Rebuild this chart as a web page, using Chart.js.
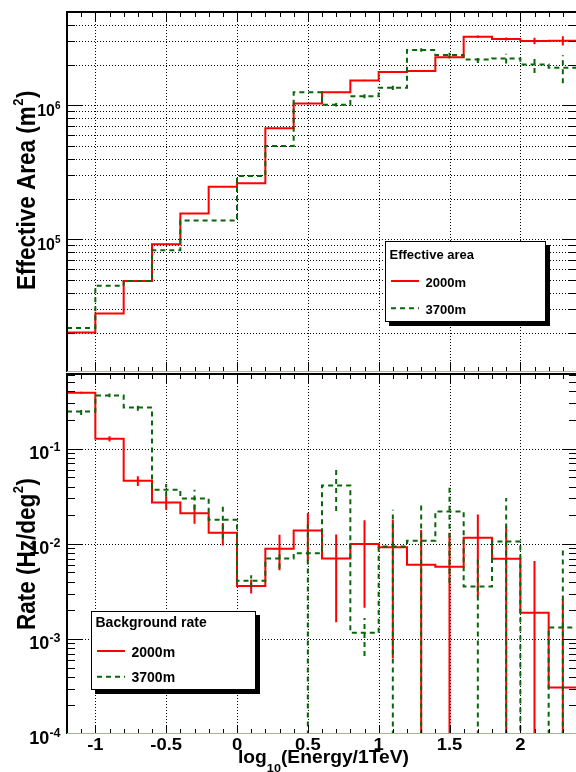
<!DOCTYPE html>
<html><head><meta charset="utf-8">
<script src="https://cdn.jsdelivr.net/npm/chart.js@4"></script>
<style>
html,body{margin:0;padding:0;background:#fff;overflow:hidden;width:576px;height:772px;}
#wrap{position:relative;width:576px;height:772px;overflow:hidden;background:#fff;}
canvas{position:absolute;left:0;top:0;}
</style></head><body>
<div id="wrap"><canvas id="cTop" width="580" height="772"></canvas><canvas id="cBot" width="580" height="772"></canvas></div>
<script>
// ---- data ----
const binEdges = [-1.2,-1.0,-0.8,-0.6,-0.4,-0.2,0.0,0.2,0.4,0.6,0.8,1.0,1.2,1.4,1.6,1.8,2.0,2.2,2.4];
const seriesNames = ['2000m','3700m'];
const areaRed      = [2.02e4,2.79e4,4.89e4,9.18e4,1.56e5,2.47e5,2.62e5,6.73e5,1.03e6,1.25e6,1.53e6,1.77e6,1.80e6,2.28e6,3.25e6,3.13e6,3.02e6,3.03e6];
const areaRedErr   = [0,0,0,0,0,0,0,0,0,0.01e6,0.02e6,0.02e6,0.03e6,0.04e6,0.07e6,0.08e6,0.17e6,0.24e6];
const areaGreen    = [2.18e4,4.51e4,4.89e4,8.28e4,1.38e5,1.38e5,2.97e5,4.97e5,1.25e6,1.01e6,1.17e6,1.35e6,2.59e6,2.37e6,2.20e6,2.24e6,2.02e6,1.91e6];
const areaGreenErr = [0,0,0,0,0,0,0,0,0,0.03e6,0.04e6,0.05e6,0.08e6,0.10e6,0.13e6,0.19e6,0.28e6,0.45e6];
const rateRed      = [0.388,0.127,0.046,0.0272,0.021,0.0131,0.00361,0.00886,0.0138,0.0070,0.00993,0.00923,0.00601,0.00573,0.0116,0.00695,0.00188,0.000308];
const rateRedErr   = [0.01,0.008,0.0055,0.0044,0.0047,0.0035,0.0006,0.0036,0.0073,0.0055,0.0078,0.0086,0.008,0.0072,0.0088,0.0083,0.0047,0.0023];
const rateGreen    = [0.247,0.364,0.272,0.037,0.030,0.0179,0.00408,0.00701,0.00798,0.0411,0.00116,0.00937,0.0108,0.0219,0.00356,0.0106,1e-4,0.00132];
const rateGreenErr = [0.02,0.017,0.021,0.0055,0.007,0.0066,0.0006,0.0015,0.0079,0.019,0.0005,0.0135,0.016,0.018,0.0037,0.0197,0,0.0078];
const xTickValues = [-1,-0.5,0,0.5,1,1.5,2];
const xTickLabels = ['-1','-0.5','0','0.5','1','1.5','2'];
const areaTickValues = [1e5,1e6];
const areaTickExp = ['5','6'];
const rateTickValues = [1e-4,1e-3,1e-2,1e-1];
const rateTickExp = ['-4','-3','-2','-1'];
const xTitle = ['log','10','(Energy/1TeV)'];
const areaTitle = ['Effective Area (m','2',')'];
const rateTitle = ['Rate (Hz/deg','2',')'];
const areaLegendTitle = 'Effective area';
const rateLegendTitle = 'Background rate';
const AREA_MIN = 1.023e4, AREA_MAX = 4.97e6, RATE_MIN = 1e-4, RATE_MAX = 0.611;
const X_MIN = -1.2, X_MAX = 2.4;

const RED = '#ff0000', GREEN = '#0a660a';
const FONT = '"Liberation Sans", Arial, Helvetica, sans-serif';

function histPoints(vals){
  const pts = vals.map((v,i)=>({x:binEdges[i], y:v}));
  pts.push({x:binEdges[binEdges.length-1], y:vals[vals.length-1]});
  return pts;
}
function errPoints(vals, errs, floor){
  const pts = [];
  vals.forEach((v,i)=>{
    if(!errs[i]) return;
    const c = (binEdges[i]+binEdges[i+1])/2;
    const lo = v-errs[i] > floor ? v-errs[i] : floor*0.5;
    pts.push({x:c,y:lo},{x:c,y:v+errs[i]},{x:c,y:null});
  });
  return pts;
}
function datasets(rv, re, gv, ge, floor){
  const base = {pointRadius:0, borderWidth:2, fill:false, tension:0, spanGaps:false};
  return [
    Object.assign({label:seriesNames[1], data:histPoints(gv), borderColor:GREEN, borderDash:[5,4], stepped:'before', order:0}, base),
    Object.assign({label:seriesNames[1]+' err', data:errPoints(gv,ge,floor), borderColor:GREEN, borderDash:[5,4], order:0}, base),
    Object.assign({label:seriesNames[0], data:histPoints(rv), borderColor:RED, stepped:'before', order:1}, base),
    Object.assign({label:seriesNames[0]+' err', data:errPoints(rv,re,floor), borderColor:RED, order:1}, base)
  ];
}

function minorLogValues(min, max){
  const out = [];
  for(let d=Math.floor(Math.log10(min)); d<=Math.ceil(Math.log10(max)); d++){
    for(let k=1;k<=9;k++){ const v=k*Math.pow(10,d); if(v>=min*1.0001 && v<=max*0.9999) out.push({v, major:k===1}); }
  }
  return out;
}
function xMinorValues(){
  const out=[];
  for(let i=1;i<36;i++){ const v=Math.round((X_MIN+i*0.1)*10)/10; out.push({v, major: Math.abs(v*2-Math.round(v*2))<1e-9}); }
  return out;
}

function txt(ctx, s, x, y, size, align, sx){
  ctx.save(); ctx.translate(x,y); ctx.scale(sx||1,1);
  ctx.font = 'bold '+size+'px '+FONT; ctx.textAlign = align||'left'; ctx.textBaseline='alphabetic';
  ctx.fillStyle='#000'; ctx.fillText(s,0,0); ctx.restore();
}
function tw(ctx, s, size){ ctx.save(); ctx.font='bold '+size+'px '+FONT; const w=ctx.measureText(s).width; ctx.restore(); return w; }

function makeFrame(P){
  return {
    id:'rootframe',
    beforeDatasetsDraw(chart){
      const {ctx, chartArea:a} = chart; const xs=chart.scales.x, ys=chart.scales.y;
      ctx.save(); ctx.strokeStyle='#000'; ctx.lineWidth=1; ctx.setLineDash([1,2]);
      ctx.beginPath();
      xTickValues.forEach(v=>{const p=Math.round(xs.getPixelForValue(v))+0.5; ctx.moveTo(p,a.top); ctx.lineTo(p,a.bottom);});
      P.gridY.forEach(v=>{const p=Math.round(ys.getPixelForValue(v))+0.5; ctx.moveTo(a.left,p); ctx.lineTo(a.right,p);});
      ctx.stroke(); ctx.restore();
    },
    afterDraw(chart){
      const {ctx, chartArea:a} = chart; const xs=chart.scales.x, ys=chart.scales.y;
      ctx.save();
      // ticks
      ctx.setLineDash([]); ctx.strokeStyle='#000'; ctx.lineWidth=1; ctx.beginPath();
      xMinorValues().forEach(t=>{
        const p=Math.round(xs.getPixelForValue(t.v))+0.5; const L=t.major?P.xMajor:5;
        ctx.moveTo(p,a.top); ctx.lineTo(p,a.top+L);
        ctx.moveTo(p,a.bottom); ctx.lineTo(p,a.bottom-L);
      });
      minorLogValues(P.ymin,P.ymax).forEach(t=>{
        const p=Math.round(ys.getPixelForValue(t.v))+0.5; const L=t.major?15:8;
        ctx.moveTo(a.left,p); ctx.lineTo(a.left+L,p);
        ctx.moveTo(a.right,p); ctx.lineTo(a.right-L,p);
      });
      ctx.stroke();
      // frame
      ctx.strokeStyle='#000'; ctx.lineWidth=2; ctx.beginPath();
      ctx.moveTo(a.left,a.bottom); ctx.lineTo(a.left,a.top); ctx.lineTo(a.right,a.top); ctx.lineTo(a.right,a.bottom);
      ctx.stroke();
      ctx.strokeStyle='#d99a9a'; ctx.lineWidth=1; ctx.beginPath();
      ctx.moveTo(a.left, Math.round(a.bottom)-0.5); ctx.lineTo(a.right, Math.round(a.bottom)-0.5); ctx.stroke();
      // y tick labels
      P.yTicks.forEach((v,i)=>{
        const p=ys.getPixelForValue(v); const e=P.yExp[i];
        txt(ctx, e, 60.5, p+P.expDy, P.expSize, 'right');
        const we=tw(ctx,e,P.expSize);
        txt(ctx, '10', 60.5-we, p+P.baseDy, P.baseSize, 'right');
      });
      // x tick labels
      if(P.xLabels){
        xTickValues.forEach((v,i)=>{ txt(ctx, xTickLabels[i], xs.getPixelForValue(v), 750, 16, 'center', 1.15); });
        const sx=1.1; let x0=238;
        txt(ctx, xTitle[0], x0, 763, 17.5, 'left', sx); x0 += tw(ctx,xTitle[0],17.5)*sx;
        txt(ctx, xTitle[1], x0, 772, 11.5, 'left', sx); x0 += tw(ctx,xTitle[1],11.5)*sx;
        txt(ctx, xTitle[2], x0, 763, 17.5, 'left', sx);
      }
      // y title (rotated)
      ctx.save(); ctx.translate(35, P.titleY); ctx.scale(1.16,1); ctx.rotate(-Math.PI/2);
      ctx.fillStyle='#000'; ctx.textAlign='left'; ctx.textBaseline='alphabetic';
      ctx.font='bold 22.5px '+FONT; ctx.fillText(P.title[0],0,0); let w=ctx.measureText(P.title[0]).width;
      ctx.font='bold 13px '+FONT; ctx.fillText(P.title[1],w+0.5,-10); w+=ctx.measureText(P.title[1]).width+1;
      ctx.font='bold 22.5px '+FONT; ctx.fillText(P.title[2],w,0);
      ctx.restore();
      // legend
      const L=P.legend;
      ctx.fillStyle='#000'; ctx.fillRect(L.x+4, L.y+4, L.w, L.h);
      ctx.fillStyle='#fff'; ctx.fillRect(L.x, L.y, L.w, L.h);
      ctx.strokeStyle='#000'; ctx.lineWidth=1; ctx.strokeRect(L.x+0.5, L.y+0.5, L.w-1, L.h-1);
      txt(ctx, L.title, L.x+4.5, L.ty, L.size, 'left');
      const cols=[RED,GREEN], dashes=[[],[5,4]];
      L.rows.forEach((ry,i)=>{
        ctx.strokeStyle=cols[i]; ctx.lineWidth=2; ctx.setLineDash(dashes[i]);
        ctx.beginPath(); ctx.moveTo(L.x+6, ry); ctx.lineTo(L.x+34, ry); ctx.stroke();
        ctx.setLineDash([]);
        txt(ctx, seriesNames[i], L.x+40.5, ry+5.5, L.size, 'left');
      });
      ctx.restore();
    }
  };
}

function commonOptions(pad, ymin, ymax){
  return {
    responsive:false, animation:false, devicePixelRatio:1, events:[],
    layout:{padding:pad},
    scales:{
      x:{type:'linear', min:X_MIN, max:X_MAX, display:false},
      y:{type:'logarithmic', min:ymin, max:ymax, display:false}
    },
    plugins:{legend:{display:false}, tooltip:{enabled:false}}
  };
}

const areaGrid = minorLogValues(AREA_MIN, AREA_MAX).map(t=>t.v);
new Chart(document.getElementById('cTop'), {
  type:'line',
  data:{datasets: datasets(areaRed, areaRedErr, areaGreen, areaGreenErr, AREA_MIN)},
  options: commonOptions({left:67, top:12, right:3, bottom:400}, AREA_MIN, AREA_MAX),
  plugins:[makeFrame({gridY:areaGrid, ymin:AREA_MIN, ymax:AREA_MAX, xMajor:10,
    yTicks:areaTickValues, yExp:areaTickExp, expSize:10, expDy:4, baseSize:16, baseDy:10.7,
    xLabels:false, title:areaTitle, titleY:290,
    legend:{x:385, y:241, w:161, h:81, title:areaLegendTitle, ty:259.3, size:13, rows:[281,308.3]}})]
});

const rateGrid = [1e-3,1e-2,1e-1];
new Chart(document.getElementById('cBot'), {
  type:'line',
  data:{datasets: datasets(rateRed, rateRedErr, rateGreen, rateGreenErr, RATE_MIN)},
  options: commonOptions({left:67, top:374, right:3, bottom:38}, RATE_MIN, RATE_MAX),
  plugins:[makeFrame({gridY:rateGrid, ymin:RATE_MIN, ymax:RATE_MAX, xMajor:9,
    yTicks:rateTickValues, yExp:rateTickExp, expSize:12.5, expDy:2.7, baseSize:18, baseDy:10.3,
    xLabels:true, title:rateTitle, titleY:630,
    legend:{x:91, y:611, w:165, h:79, title:rateLegendTitle, ty:626.7, size:14, rows:[651,676.7]}})]
});
</script>
</body></html>
